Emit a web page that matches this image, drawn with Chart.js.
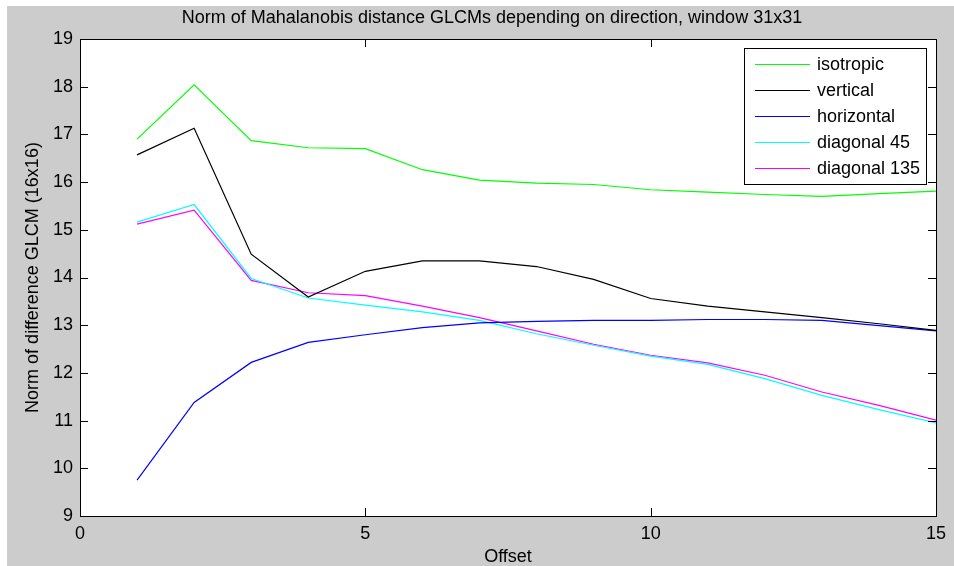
<!DOCTYPE html>
<html>
<head>
<meta charset="utf-8">
<title>Norm of Mahalanobis distance GLCMs</title>
<script src="https://cdn.jsdelivr.net/npm/chart.js@4/dist/chart.umd.min.js"></script>
<style>
  html, body { margin: 0; padding: 0; background: #ffffff; }
  #wrap { width: 954px; height: 566px; }
</style>
</head>
<body>
<div id="wrap"><canvas id="c" width="954" height="566"></canvas></div>
<script>
// Offsets (distance between pixel pairs used to build the GLCM)
const offsets = [1, 2, 3, 4, 5, 6, 7, 8, 9, 10, 11, 12, 13, 14, 15];

// Norm of the difference GLCM for each direction
const isotropic  = [16.90, 18.04, 16.87, 16.72, 16.70, 16.26, 16.04, 15.98, 15.95, 15.84, 15.79, 15.74, 15.70, 15.76, 15.81];
const vertical   = [16.57, 17.13, 14.49, 13.59, 14.13, 14.35, 14.35, 14.23, 13.96, 13.56, 13.40, 13.28, 13.16, 13.03, 12.89];
const horizontal = [9.75, 11.38, 12.22, 12.64, 12.80, 12.95, 13.05, 13.08, 13.10, 13.10, 13.12, 13.12, 13.10, 12.99, 12.88];
const diagonal45 = [15.16, 15.53, 13.98, 13.57, 13.42, 13.28, 13.10, 12.82, 12.58, 12.35, 12.18, 11.88, 11.53, 11.23, 10.95];
const diagonal135 = [15.12, 15.41, 13.94, 13.68, 13.62, 13.40, 13.16, 12.88, 12.60, 12.37, 12.21, 11.95, 11.60, 11.32, 11.01];

const seriesNames = ['isotropic', 'vertical', 'horizontal', 'diagonal 45', 'diagonal 135'];
const seriesValues = [isotropic, vertical, horizontal, diagonal45, diagonal135];
const seriesColors = ['#00ff00', '#000000', '#0000ff', '#00ffff', '#ff00ff'];

const xTicks = [0, 5, 10, 15];
const yTicks = [9, 10, 11, 12, 13, 14, 15, 16, 17, 18, 19];

const chartTitle = 'Norm of Mahalanobis distance GLCMs depending on direction, window 31x31';

const FONT = '"Liberation Sans", Arial, Helvetica, sans-serif';
const FSIZE = 18;

// Figure background, title, white axes box, inward tick marks, frame and legend
const matlabFrame = {
  id: 'matlabFrame',
  beforeDraw(chart) {
    const { ctx, chartArea: a } = chart;
    ctx.save();
    ctx.fillStyle = '#ffffff';
    ctx.fillRect(0, 0, chart.width, chart.height);
    ctx.fillStyle = '#cccccc';
    ctx.fillRect(7, 6, chart.width - 7, chart.height - 6);
    ctx.fillStyle = '#ffffff';
    ctx.fillRect(a.left, a.top, a.right - a.left, a.bottom - a.top);

    ctx.fillStyle = '#000000';
    ctx.font = FSIZE + 'px ' + FONT;
    ctx.textAlign = 'center';
    ctx.textBaseline = 'middle';
    ctx.fillText(chartTitle, 492, 18);
    ctx.restore();
  },
  afterDatasetsDraw(chart) {
    const { ctx, chartArea: a, scales } = chart;
    const tl = 8;
    ctx.save();
    ctx.strokeStyle = '#000000';
    ctx.lineWidth = 1;
    ctx.beginPath();
    yTicks.forEach(v => {
      const y = Math.round(scales.y.getPixelForValue(v)) + 0.5;
      ctx.moveTo(a.left, y); ctx.lineTo(a.left + tl, y);
      ctx.moveTo(a.right, y); ctx.lineTo(a.right - tl, y);
    });
    xTicks.forEach(v => {
      const x = Math.round(scales.x.getPixelForValue(v)) + 0.5;
      ctx.moveTo(x, a.bottom); ctx.lineTo(x, a.bottom - tl);
      ctx.moveTo(x, a.top); ctx.lineTo(x, a.top + tl);
    });
    ctx.stroke();
    ctx.strokeRect(Math.round(a.left) + 0.5, Math.round(a.top) + 0.5,
                   Math.round(a.right - a.left), Math.round(a.bottom - a.top));

    // legend box in the upper right corner of the axes
    const bx = 744.5, by = 48.5, bw = 182, bh = 136;
    ctx.fillStyle = '#ffffff';
    ctx.fillRect(bx, by, bw, bh);
    ctx.strokeRect(bx, by, bw, bh);
    ctx.font = FSIZE + 'px ' + FONT;
    ctx.textBaseline = 'middle';
    ctx.textAlign = 'left';
    chart.data.datasets.forEach((ds, i) => {
      const y = 64.5 + i * 26;
      ctx.strokeStyle = ds.borderColor;
      ctx.beginPath();
      ctx.moveTo(755, y); ctx.lineTo(810, y);
      ctx.stroke();
      ctx.fillStyle = '#000000';
      ctx.fillText(ds.label, 817, y + 1);
    });
    ctx.restore();
  }
};

const datasets = seriesNames.map((name, i) => ({
  label: name,
  data: offsets.map((x, j) => ({ x: x, y: seriesValues[i][j] })),
  borderColor: seriesColors[i],
  backgroundColor: seriesColors[i],
  borderWidth: 1.2,
  pointRadius: 0,
  tension: 0,
  fill: false
}));

new Chart(document.getElementById('c'), {
  type: 'line',
  data: { datasets },
  plugins: [matlabFrame],
  options: {
    responsive: false,
    animation: false,
    events: [],
    layout: { padding: { left: 0, right: 18, top: 39, bottom: 0 } },
    plugins: {
      legend: { display: false },
      tooltip: { enabled: false },
      title: { display: false }
    },
    scales: {
      x: {
        type: 'linear',
        min: 0, max: 15,
        afterBuildTicks(scale) { scale.ticks = xTicks.map(v => ({ value: v })); },
        afterFit(scale) { scale.height = 50; },
        grid: { display: false, drawTicks: false },
        border: { display: false },
        ticks: { color: '#000000', padding: 7, maxRotation: 0, font: { family: FONT, size: FSIZE } },
        title: {
          display: true, text: 'Offset', color: '#000000',
          font: { family: FONT, size: FSIZE }, padding: { top: 0, bottom: -2 }
        }
      },
      y: {
        type: 'linear',
        min: 9, max: 19,
        afterBuildTicks(scale) { scale.ticks = yTicks.map(v => ({ value: v })); },
        afterFit(scale) { scale.width = 80; },
        grid: { display: false, drawTicks: false },
        border: { display: false },
        ticks: { color: '#000000', padding: 7, font: { family: FONT, size: FSIZE } },
        title: {
          display: true, text: 'Norm of difference GLCM (16x16)', color: '#000000',
          font: { family: FONT, size: FSIZE }, padding: { top: 22, bottom: 0 }
        }
      }
    }
  }
});
</script>
</body>
</html>
